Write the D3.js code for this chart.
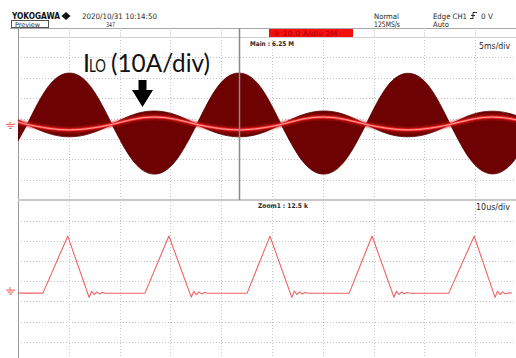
<!DOCTYPE html>
<html>
<head>
<meta charset="utf-8">
<script src="https://cdn.jsdelivr.net/npm/d3@7"></script>
<style>
body { margin: 0; background: #fff; }
svg { display: block; }
</style>
</head>
<body>
<svg id="scope" width="516" height="358"></svg>
<script>
// main window: time in ms (5 ms/div), current in A (10 A/div)
var envT  = [0, 0.9, 2.98, 5.07, 7.16, 9.25, 11.34, 13.43, 15.51, 17.6, 19.68, 21.75, 23.83, 25.9,
             27.99, 30.08, 32.16, 34.25, 36.33, 38.4, 40.48, 42.55, 44.64, 46.73, 48.81, 50.9];
var envHi = [2.2, 0, 18.6, 25.2, 18.5, 0, 4.8, 6.6, 4.7, 0, 18.7, 25.2, 18.6, 0,
             4.7, 6.6, 4.8, 0, 18.6, 25.1, 18.5, 0, 4.8, 6.5, 4.7, 0];
var envLo = [-8.1, 0, -4.4, -6.1, -4.4, 0, -18.0, -24.4, -17.9, 0, -4.4, -6.1, -4.5, 0,
             -17.9, -24.4, -18.0, 0, -4.5, -6.1, -4.4, 0, -18.0, -24.3, -17.9, 0];
var meanI = [1.2, 0, -1.9, -2.7, -1.9, 0, 2.5, 3.6, 2.5, 0, -1.9, -2.7, -1.9, 0,
             2.6, 3.6, 2.5, 0, -1.9, -2.7, -1.9, 0, 2.5, 3.6, 2.5, 0];
var nodeT = [0.9, 9.25, 17.6, 25.9, 34.25, 42.55, 50.9];

// zoom window: time in us (10 us/div), current in A
var zoomT = [0, 4.9, 9.8, 14.0, 14.5, 15.0, 15.5, 16.0, 16.6, 17.3,
             25.0, 29.7, 34.1, 34.6, 35.1, 35.6, 36.1, 36.7, 37.4,
             45.1, 49.6, 53.9, 54.4, 54.9, 55.4, 55.9, 56.5, 57.2,
             65.2, 69.7, 74.0, 74.5, 75.0, 75.5, 76.0, 76.6, 77.3,
             84.8, 89.8, 93.9, 94.4, 94.9, 95.4, 95.9, 96.5, 97.2, 100];
var zoomI = [-1.5, -1.5, 26.7, -3.6, -0.6, -2.2, -0.9, -1.9, -1.2, -1.6,
             -1.5, 26.8, -3.5, -0.6, -2.3, -0.9, -1.9, -1.2, -1.6,
             -1.5, 26.7, -3.6, -0.5, -2.2, -0.9, -1.9, -1.2, -1.6,
             -1.5, 26.8, -3.5, -0.6, -2.2, -0.9, -1.8, -1.2, -1.6,
             -1.5, 26.7, -3.6, -0.6, -2.2, -0.9, -1.9, -1.3, -1.5];

var svg = d3.select("#scope");
var W = 516, H = 358;
var left = 18, right = 526;
var mainTop = 37, mainBot = 200, zoomTop = 200, zoomBot = 362;

var xMain = d3.scaleLinear().domain([0, 50]).range([left, right]);
var yMain = d3.scaleLinear().domain([-37.1, 42.9]).range([mainBot, mainTop]);
var xZoom = d3.scaleLinear().domain([0, 100]).range([left, right]);
var yZoom = d3.scaleLinear().domain([-35.6, 44.6]).range([zoomBot, zoomTop]);

var defs = svg.append("defs");
defs.append("clipPath").attr("id", "clipMain").append("rect")
    .attr("x", left).attr("y", mainTop).attr("width", W - left).attr("height", mainBot - mainTop);
defs.append("clipPath").attr("id", "clipZoom").append("rect")
    .attr("x", left).attr("y", zoomTop).attr("width", W - left).attr("height", H - zoomTop);
defs.append("filter").attr("id", "glow").attr("x", "-10%").attr("y", "-50%").attr("width", "120%").attr("height", "200%")
    .append("feGaussianBlur").attr("stdDeviation", 1.3);

// grid
var grid = svg.append("g").attr("stroke", "#c4c4c4").attr("stroke-width", 1).attr("stroke-dasharray", "1,2");
grid.selectAll(".vg").data(d3.range(5, 50, 5)).enter().append("line")
    .attr("x1", function (d) { return Math.round(xMain(d)) + 0.5; })
    .attr("x2", function (d) { return Math.round(xMain(d)) + 0.5; })
    .attr("y1", mainTop).attr("y2", H);
grid.selectAll(".hm").data(d3.range(1, 8)).enter().append("line")
    .attr("x1", left).attr("x2", W)
    .attr("y1", function (d) { return Math.round(yMain(-37.1 + 10 * d)) + 0.5; })
    .attr("y2", function (d) { return Math.round(yMain(-37.1 + 10 * d)) + 0.5; });
grid.selectAll(".hz").data(d3.range(1, 8)).enter().append("line")
    .attr("x1", left).attr("x2", W)
    .attr("y1", function (d) { return Math.round(yZoom(-35.6 + 10 * d)) + 0.5; })
    .attr("y2", function (d) { return Math.round(yZoom(-35.6 + 10 * d)) + 0.5; });

// top strip with division ticks
svg.append("line").attr("x1", 10).attr("x2", W).attr("y1", 28.5).attr("y2", 28.5).attr("stroke", "#a8a8a8");
svg.append("line").attr("x1", left).attr("x2", W).attr("y1", 37.5).attr("y2", 37.5).attr("stroke", "#d0d0d0");
svg.append("g").attr("stroke", "#bdbdbd").attr("stroke-dasharray", "1,1.5")
    .selectAll("line").data(d3.range(5, 50, 5)).enter().append("line")
    .attr("x1", function (d) { return Math.round(xMain(d)) + 0.5; })
    .attr("x2", function (d) { return Math.round(xMain(d)) + 0.5; })
    .attr("y1", 30).attr("y2", 36);
svg.append("rect").attr("x", 269).attr("y", 29).attr("width", 84).attr("height", 8).attr("fill", "#f51010");
svg.append("text").attr("x", 273).attr("y", 35.5).attr("font-family", "DejaVu Sans Condensed")
    .attr("font-size", 6.5).attr("fill", "#a00000").attr("textLength", 64).attr("lengthAdjust", "spacingAndGlyphs")
    .text("\u2461  10.0 A/div  2M");

// frame
svg.append("line").attr("x1", left + 0.5).attr("x2", left + 0.5).attr("y1", 28).attr("y2", H).attr("stroke", "#9a9a9a");
svg.append("line").attr("x1", left).attr("x2", W).attr("y1", 200).attr("y2", 200).attr("stroke", "#c8c8c8").attr("stroke-width", 2);

// main waveform envelope, one lobe per half cycle
var pts = envT.map(function (t, i) { return { t: t, hi: envHi[i], lo: envLo[i], m: meanI[i] }; });
var segs = [pts.filter(function (p) { return p.t <= nodeT[0]; })];
for (var k = 0; k < nodeT.length - 1; k++) {
    segs.push(pts.filter(function (p) { return p.t >= nodeT[k] && p.t <= nodeT[k + 1]; }));
}
var area = d3.area()
    .x(function (d) { return xMain(d.t); })
    .y0(function (d) { return yMain(d.lo); })
    .y1(function (d) { return yMain(d.hi); })
    .curve(d3.curveNatural);
var mainG = svg.append("g").attr("clip-path", "url(#clipMain)");
mainG.selectAll(".lobe").data(segs).enter().append("path")
    .attr("d", area)
    .attr("fill", "#6e0202")
    .attr("stroke", "#560000").attr("stroke-width", 0.8);

var meanLine = d3.line()
    .x(function (d) { return xMain(d.t); })
    .y(function (d) { return yMain(d.m); })
    .curve(d3.curveNatural);
mainG.append("path").attr("d", meanLine(pts)).attr("fill", "none")
    .attr("stroke", "#d01818").attr("stroke-width", 5).attr("opacity", 0.75).attr("filter", "url(#glow)");
mainG.append("path").attr("d", meanLine(pts)).attr("fill", "none")
    .attr("stroke", "#ff3030").attr("stroke-width", 2.4);
mainG.append("path").attr("d", meanLine(pts)).attr("fill", "none")
    .attr("stroke", "#ffaaaa").attr("stroke-width", 0.9);

// zoom waveform
var zoomLine = d3.line()
    .x(function (d, i) { return xZoom(zoomT[i]); })
    .y(function (d) { return yZoom(d); });
svg.append("g").attr("clip-path", "url(#clipZoom)").append("path")
    .attr("d", zoomLine(zoomI)).attr("fill", "none")
    .attr("stroke", "#ef6262").attr("stroke-width", 1.1).attr("stroke-linejoin", "round");

// cursor
svg.append("line").attr("x1", 239.5).attr("x2", 239.5).attr("y1", 28).attr("y2", 200)
    .attr("stroke", "#8a8a8a").attr("stroke-width", 1.5);

// ground markers
function ground(y) {
    svg.append("path")
        .attr("d", "M10," + (y - 3) + "V" + y + "M6," + y + "H15M7.5," + (y + 2) + "H13.5M9," + (y + 4) + "H12")
        .attr("stroke", "#f07a7a").attr("stroke-width", 1.2).attr("fill", "none");
}
ground(yMain(0));
ground(yZoom(0));

// header texts
function label(x, y, s, size, len, opts) {
    opts = opts || {};
    var t = svg.append("text").attr("x", x).attr("y", y)
        .attr("font-family", opts.family || "DejaVu Sans Condensed")
        .attr("font-size", size).attr("fill", opts.fill || "#2a2a2a")
        .attr("font-weight", opts.bold ? "bold" : "normal").text(s);
    if (len) t.attr("textLength", len).attr("lengthAdjust", "spacingAndGlyphs");
    return t;
}
label(12, 19, "YOKOGAWA", 8.5, 48, { bold: true, fill: "#111" });
svg.append("path").attr("d", "M66,12 L70.5,16 L66,20 L61.5,16 Z").attr("fill", "#111");
label(82, 18.5, "2020/10/31  10:14:50", 7.5, 75);
svg.append("rect").attr("x", 11.5).attr("y", 20.5).attr("width", 37).attr("height", 7)
    .attr("fill", "none").attr("stroke", "#555");
label(15, 26.5, "Preview", 6.5, 25);
label(106, 27, "347", 6.5, 9);
label(374, 18.5, "Normal", 7.5, 25);
label(374, 26.5, "125MS/s", 7.5, 26);
label(433, 18.5, "Edge CH1", 7.5, 34);
svg.append("path").attr("d", "M470,18.5 H473 V12.5 H477 M471,15.5 h4").attr("stroke", "#2a2a2a").attr("fill", "none");
label(481, 18.5, "0 V", 7.5, 12);
label(433, 26.5, "Auto", 7.5, 16);

label(250, 46, "Main : 6.25 M", 6.5, 44, { bold: true });
label(479, 49, "5ms/div", 9, 31);
label(258, 208, "Zoom1 : 12.5 k", 6.5, 50, { bold: true });
label(476, 210, "10us/div", 9, 34);

// channel annotation
label(83, 72, "I", 25, null, { family: "Lato", fill: "#111" });
label(89, 72, "LO", 17, 17, { family: "Lato", fill: "#111" });
label(111, 72, "(10A/div)", 25, 99, { family: "Lato", fill: "#111" });
svg.append("path")
    .attr("d", "M138.5,80 H146.5 V90 H153 L142.5,107 L132,90 H138.5 Z")
    .attr("fill", "#000");
</script>
</body>
</html>
